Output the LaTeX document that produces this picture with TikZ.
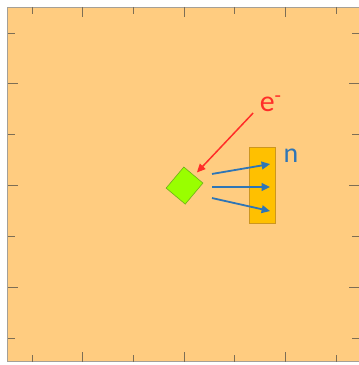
\documentclass[tikz,border=0pt]{standalone}
\usepackage{fontspec}
\setmainfont{Carlito}
\usetikzlibrary{positioning,arrows.meta}
\definecolor{panelorange}{RGB}{255,204,128}
\definecolor{framegray}{RGB}{165,160,150}
\definecolor{tickbrown}{RGB}{125,110,85}
\definecolor{targetgreen}{RGB}{153,255,0}
\definecolor{targetedge}{RGB}{110,175,25}
\definecolor{detyellow}{RGB}{255,192,0}
\definecolor{detedge}{RGB}{205,150,30}
\definecolor{beamred}{RGB}{255,45,40}
\definecolor{neutronblue}{RGB}{46,117,182}

\begin{document}
\begin{tikzpicture}[
  >={Triangle[length=3mm,width=2.7mm]},
  panel/.style={draw=framegray,fill=panelorange,line width=1pt},
  tickmark/.style={line width=0.9pt,tickbrown},
  target/.style={draw=targetedge,fill=targetgreen,line width=0.6pt,rotate=-40,minimum width=8.8mm,minimum height=9.7mm,inner sep=0pt},
  detector/.style={draw=detedge,fill=detyellow,line width=0.6pt,minimum width=9.2mm,minimum height=26.8mm,inner sep=0pt},
  beam/.style={->,line width=1.5pt,beamred},
  neutron/.style={->,line width=1.8pt,neutronblue},
  particle lab/.style={font=\fontsize{30}{32}\selectfont,inner sep=0pt,anchor=base west}
]
\useasboundingbox (0,0) rectangle (12.665,12.877);

% Panel with tick marks
\draw[panel] (0.282,0.106) rectangle (12.80,12.63);
\foreach \i in {0,...,6} {
  \pgfmathsetmacro{\tl}{ifthenelse(mod(\i,2)==1,0.37,0.23)}
  \draw[tickmark] (1.13+1.787*\i,0.106) -- ++(0,\tl);
  \draw[tickmark] (1.13+1.787*\i,12.63) -- ++(0,-\tl);
  \draw[tickmark] (0.282,0.953+1.793*\i) -- ++(\tl,0);
  \draw[tickmark] (12.665,0.953+1.793*\i) -- ++(-\tl,0);
}

% Target and detector
\node[target] (target) at (6.51,6.33) {};
\node[detector] (det) at (9.243,6.35) {};

% Incoming electron
\node[particle lab,beamred] (elec) at (9.16,8.96) {e\textsuperscript{-}};
\coordinate (beamstart) at (8.93,8.89);
\draw[beam,shorten >=1.4mm] (beamstart) -- (target);

% Outgoing neutrons
\node[particle lab,font=\fontsize{28}{30}\selectfont,neutronblue] (neut) at (10.0,7.16) {n};
\coordinate (n1s) at (7.48,6.74);
\coordinate (n1e) at (9.53,7.09);
\coordinate (n2s) at (7.48,6.28);
\coordinate (n2e) at (9.53,6.28);
\coordinate (n3s) at (7.48,5.89);
\coordinate (n3e) at (9.53,5.43);
\draw[neutron] (n1s) -- (n1e);
\draw[neutron] (n2s) -- (n2e);
\draw[neutron] (n3s) -- (n3e);

\end{tikzpicture}
\end{document}
